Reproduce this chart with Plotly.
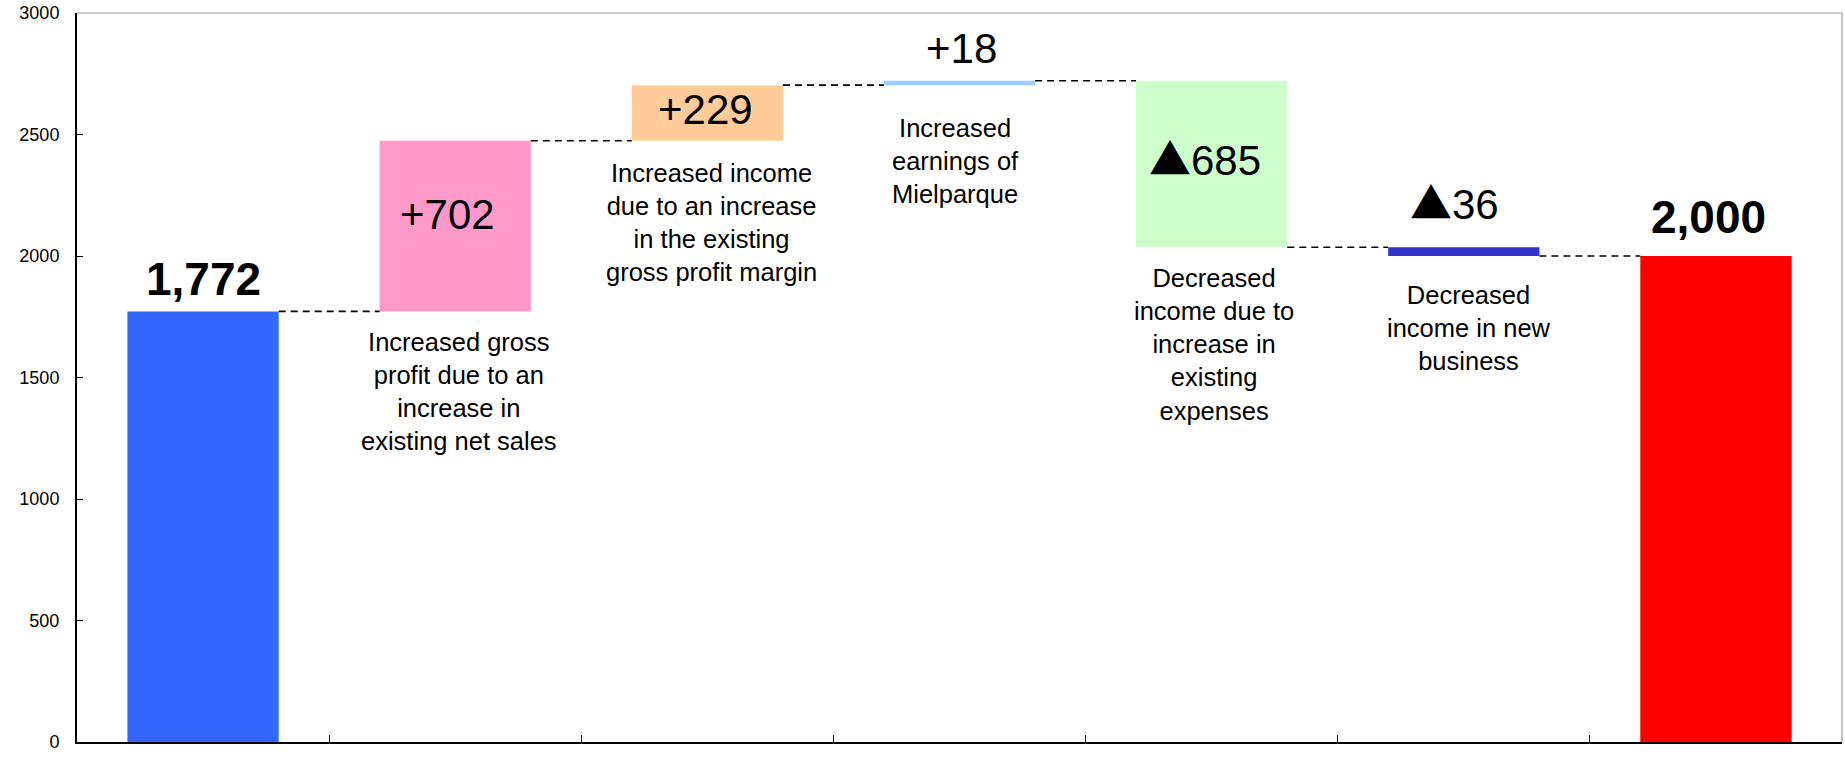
import plotly.graph_objects as go

# Profit bridge: previous-year result -> current-year result
steps = [
    "Previous result",
    "Increased gross<br>profit due to an<br>increase in<br>existing net sales",
    "Increased income<br>due to an increase<br>in the existing<br>gross profit margin",
    "Increased<br>earnings of<br>Mielparque",
    "Decreased<br>income due to<br>increase in<br>existing<br>expenses",
    "Decreased<br>income in new<br>business",
    "Current result",
]
values = [1772, 702, 229, 18, -685, -36, 2000]
measures = ["absolute", "relative", "relative", "relative", "relative", "relative", "total"]
value_text = ["1,772", "+702", "+229", "+18", "\u25b2685", "\u25b236", "2,000"]
y_ticks = [0, 500, 1000, 1500, 2000, 2500, 3000]

colors = ["#3366FF", "#FF99CC", "#FFCC99", "#99CCFF", "#CCFFCC", "#3333CC", "#FF0000"]
FONT = "Liberation Sans, Arial, sans-serif"
TRI_FONT = "Noto Sans CJK JP"
BAR_W = 0.6

# floating bars: base + height, built from the running total
bases, heights, levels = [], [], []
running = 0
for v, m in zip(values, measures):
    if m == "relative":
        lo = running + min(v, 0)
        bases.append(lo)
        heights.append(abs(v))
        running += v
    else:
        bases.append(0)
        heights.append(v)
        running = v
    levels.append(running)

xs = list(range(len(values)))

fig = go.Figure()
fig.add_trace(go.Bar(
    x=xs, y=heights, base=bases, width=BAR_W,
    marker=dict(color=colors, line=dict(width=0)),
    hoverinfo="skip", showlegend=False,
))

shapes = []
# dashed connectors between neighbouring bars
for i in range(len(values) - 1):
    shapes.append(dict(
        type="line", xref="x", yref="y",
        x0=xs[i] + BAR_W / 2, x1=xs[i + 1] - BAR_W / 2,
        y0=levels[i], y1=levels[i],
        line=dict(color="black", width=1.6, dash="7px,5px"),
    ))
# light frame on top and right
shapes.append(dict(type="line", xref="paper", yref="paper", x0=0, x1=1, y0=1, y1=1,
                   line=dict(color="#9a9a9a", width=1.2)))
shapes.append(dict(type="line", xref="paper", yref="paper", x0=1, x1=1, y0=0, y1=1,
                   line=dict(color="#9a9a9a", width=1.2)))

annotations = []
tops = [b + h for b, h in zip(bases, heights)]


def fmt_value(txt, bold):
    if bold:
        return f"<b>{txt}</b>"
    if txt.startswith("\u25b2"):
        return f'<span style="font-family:{TRI_FONT}">\u25b2</span>{txt[1:]}'
    return txt


# value labels: (anchor value, pixel shift, size, bold, x shift)
value_pos = [
    (tops[0], 32, 46, True, 0),
    (tops[1], -74, 42, False, -8),
    (tops[2], -24, 42, False, -2),
    (tops[3], 32, 42, False, 2),
    (tops[4], -76, 42, False, -7),
    (tops[5], 47, 42, False, -9),
    (tops[6], 39, 46, True, -7),
]
for i, (yv, shift, size, bold, xsh) in enumerate(value_pos):
    annotations.append(dict(
        x=xs[i], y=yv, xref="x", yref="y", text=fmt_value(value_text[i], bold),
        showarrow=False, yanchor="middle", yshift=shift, xshift=xsh,
        font=dict(family=FONT, size=size, color="black"),
    ))

# description labels under the floating bars
desc_gap = {1: 15, 2: 16, 3: 27, 4: 15, 5: 23}
desc_xshift = {1: 4, 2: 4, 3: -4, 4: 2, 5: 5}
for i, gap in desc_gap.items():
    annotations.append(dict(
        x=xs[i], y=bases[i], xref="x", yref="y", text=steps[i], showarrow=False,
        yanchor="top", yshift=-gap, xshift=desc_xshift[i], align="center",
        font=dict(family=FONT, size=25.5, color="black"),
    ))

fig.update_layout(
    width=1845, height=758,
    margin=dict(l=77, r=3, t=13, b=16),
    paper_bgcolor="white", plot_bgcolor="white",
    bargap=0.4,
    shapes=shapes, annotations=annotations,
    font=dict(family=FONT, color="black"),
    xaxis=dict(
        range=[-0.5, len(values) - 0.5],
        tickmode="array", tickvals=[i + 0.5 for i in range(len(values) - 1)],
        showticklabels=False, ticks="inside", ticklen=7, tickwidth=1.2, tickcolor="black",
        showline=True, linecolor="black", linewidth=2,
        showgrid=False, zeroline=False,
    ),
    yaxis=dict(
        range=[0, 3000], tickmode="array", tickvals=y_ticks,
        ticks="inside", ticklen=6, tickwidth=1.2, tickcolor="black",
        ticklabelstandoff=12,
        tickfont=dict(family=FONT, size=18, color="black"),
        showline=True, linecolor="black", linewidth=2,
        showgrid=False, zeroline=False,
    ),
)

fig.write_html("out.html")
